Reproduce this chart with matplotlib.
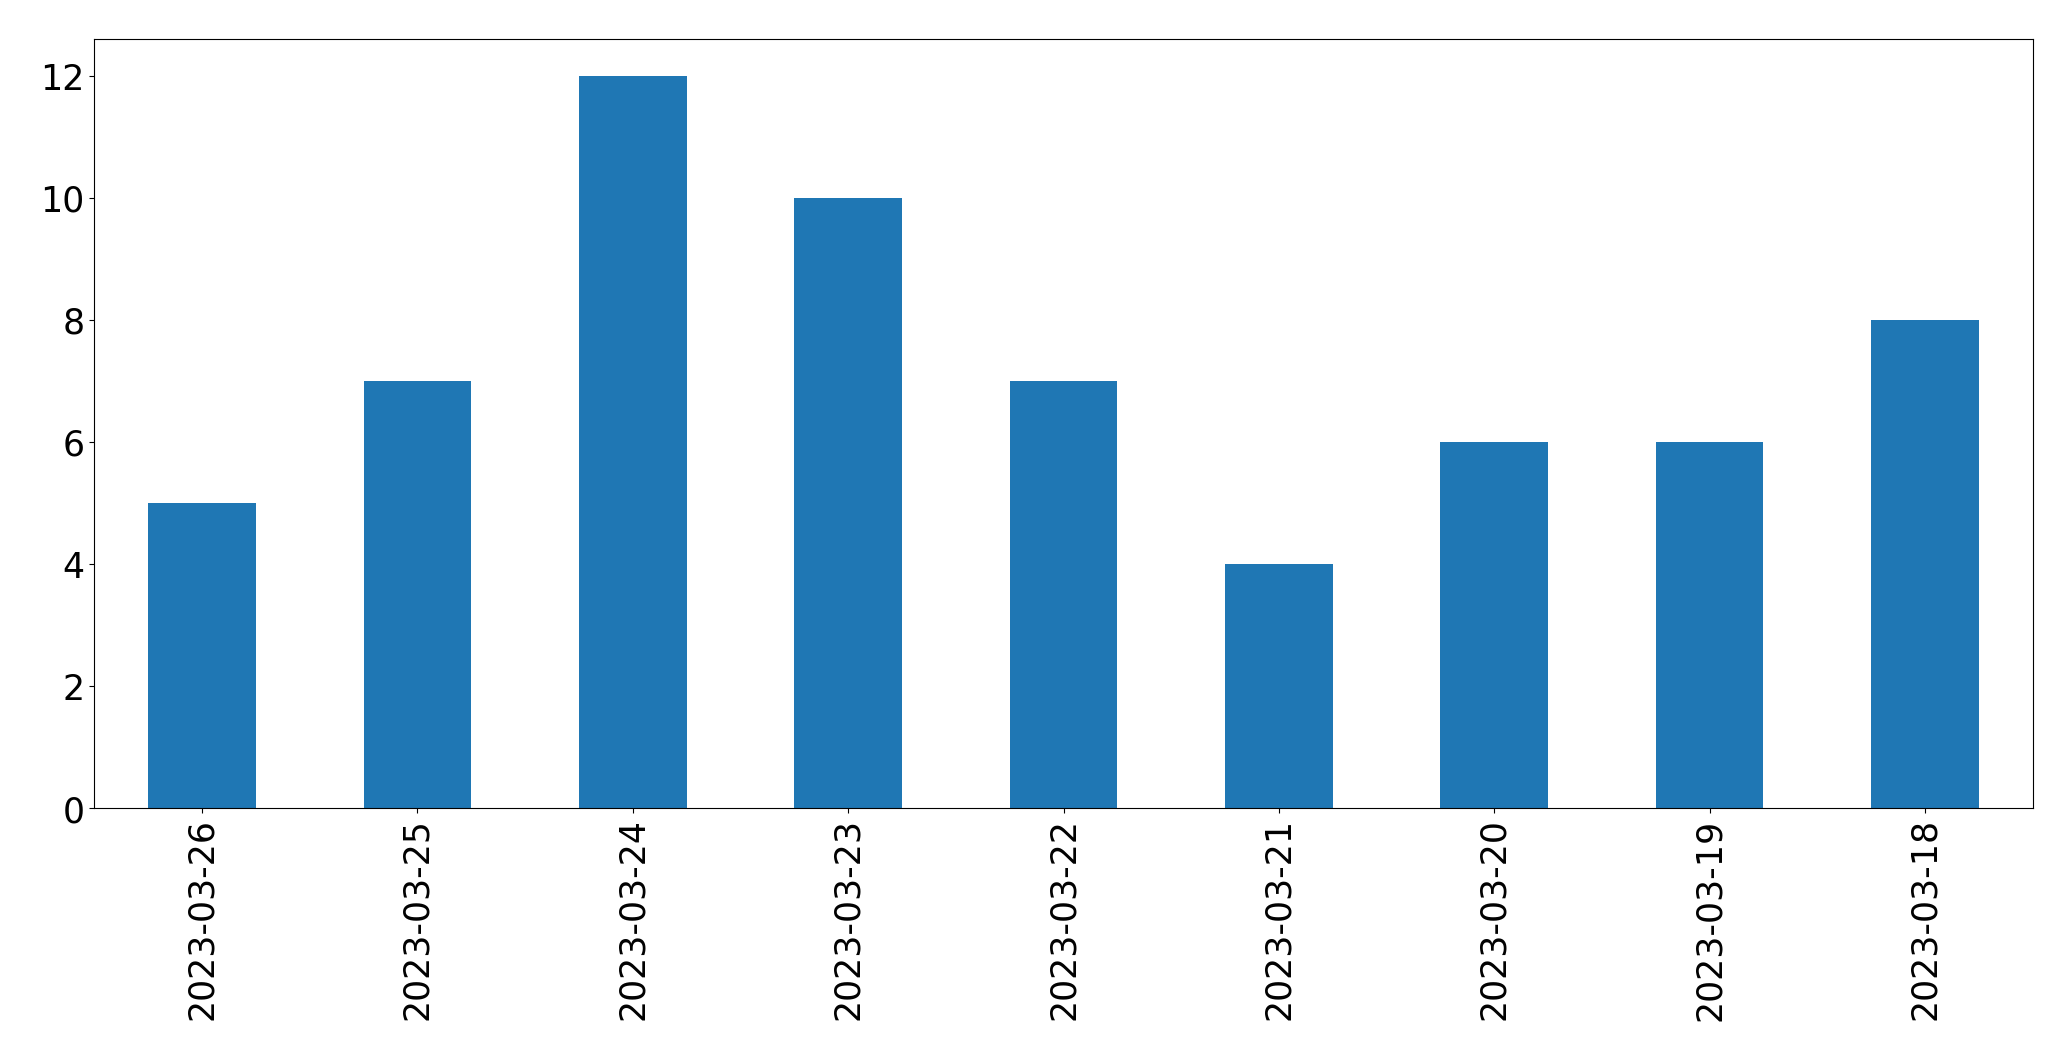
import matplotlib
matplotlib.use("Agg")
import matplotlib.pyplot as plt
import numpy as np

dates = ["2023-03-26", "2023-03-25", "2023-03-24", "2023-03-23", "2023-03-22",
         "2023-03-21", "2023-03-20", "2023-03-19", "2023-03-18"]
counts = [5, 7, 12, 10, 7, 4, 6, 6, 8]

fig = plt.figure(figsize=(20.71, 10.605), dpi=100)
ax = fig.add_axes([0.0456, 0.2375, 0.9359, 0.7253])

x = np.arange(len(dates))
ax.bar(x, counts, width=0.5, color="#1f77b4")
ax.set_xlim(-0.5, len(dates) - 0.5)
ax.set_ylim(0, max(counts) * 1.05)
ax.set_xticks(x)
ax.set_xticklabels(dates, rotation=90)
ax.tick_params(axis="both", labelsize=25)

fig.savefig("out.png", dpi=100)
